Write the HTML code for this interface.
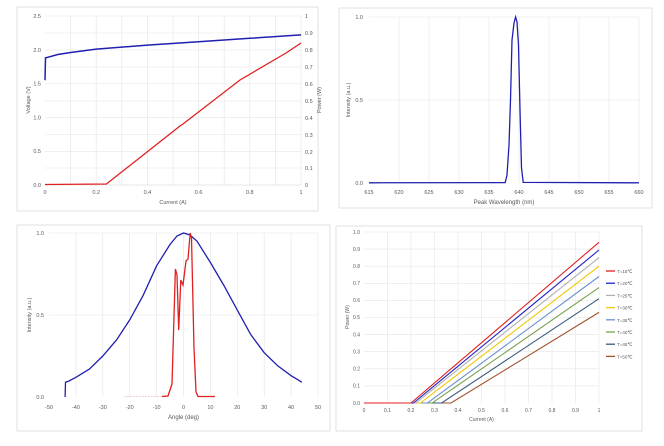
<!DOCTYPE html>
<html><head><meta charset="utf-8"><style>
body{margin:0;background:#fff}
svg{display:block;font-family:"Liberation Sans",sans-serif;font-size:5.5px;fill:#595959}
.g line{stroke:#e4e4e4;stroke-width:.6}
.b{fill:none;stroke:#d9d9d9;stroke-width:.8}
.t{font-size:6px;fill:#595959}
</style></head><body>
<svg width="664" height="446" viewBox="0 0 664 446">
<rect class="b" x="17" y="7" width="301" height="204"/>
<rect class="b" x="339" y="8" width="313" height="200"/>
<rect class="b" x="17" y="225" width="313" height="206"/>
<rect class="b" x="336" y="226" width="306" height="205"/>

<g class="g">
<line x1="45" y1="16" x2="301" y2="16"/><line x1="45" y1="50" x2="301" y2="50"/><line x1="45" y1="83.8" x2="301" y2="83.8"/><line x1="45" y1="117.6" x2="301" y2="117.6"/><line x1="45" y1="151.4" x2="301" y2="151.4"/>
<line x1="45" y1="33" x2="301" y2="33"/><line x1="45" y1="67" x2="301" y2="67"/><line x1="45" y1="101" x2="301" y2="101"/><line x1="45" y1="134.5" x2="301" y2="134.5"/><line x1="45" y1="168" x2="301" y2="168"/>
<line x1="96.2" y1="16" x2="96.2" y2="185"/><line x1="147.4" y1="16" x2="147.4" y2="185"/><line x1="198.6" y1="16" x2="198.6" y2="185"/><line x1="249.8" y1="16" x2="249.8" y2="185"/><line x1="301" y1="16" x2="301" y2="185"/>
<line x1="70.6" y1="16" x2="70.6" y2="185"/><line x1="121.8" y1="16" x2="121.8" y2="185"/><line x1="173" y1="16" x2="173" y2="185"/><line x1="224.2" y1="16" x2="224.2" y2="185"/><line x1="275.4" y1="16" x2="275.4" y2="185"/>
</g>
<line x1="45" y1="185" x2="301" y2="185" stroke="#d0d0d0" stroke-width=".6"/>
<g text-anchor="end"><text x="41" y="18">2.5</text><text x="41" y="51.8">2.0</text><text x="41" y="85.6">1.5</text><text x="41" y="119.4">1.0</text><text x="41" y="153.2">0.5</text><text x="41" y="187">0.0</text></g>
<g><text x="305" y="18">1</text><text x="305" y="35">0.9</text><text x="305" y="52">0.8</text><text x="305" y="69">0.7</text><text x="305" y="86">0.6</text><text x="305" y="103">0.5</text><text x="305" y="120">0.4</text><text x="305" y="137">0.3</text><text x="305" y="154">0.2</text><text x="305" y="170">0.1</text><text x="305" y="187">0</text></g>
<g text-anchor="middle"><text x="45" y="194">0</text><text x="96.2" y="194">0.2</text><text x="147.4" y="194">0.4</text><text x="198.6" y="194">0.6</text><text x="249.8" y="194">0.8</text><text x="301" y="194">1</text><text x="173" y="204">Current (A)</text></g>
<text x="30" y="100" text-anchor="middle" transform="rotate(-90 30 100)">Voltage (V)</text>
<text x="321" y="100" text-anchor="middle" transform="rotate(-90 321 100)">Power (W)</text>
<polyline fill="none" stroke="#2020b0" stroke-width="1.5" points="45,80.2 45.5,57.9 57.8,54.5 70.6,52.5 96.2,49.1 147.4,45.1 198.6,41.7 249.8,38.3 301,34.9"/>
<polyline fill="none" stroke="#e02020" stroke-width="1.3" points="45,184.5 106.4,184 180,126 183,124 240,80 286,53 292,49 301,43"/>

<g class="g">
<line x1="369" y1="17" x2="639" y2="17"/><line x1="369" y1="100" x2="639" y2="100"/>
<line x1="399" y1="17" x2="399" y2="183"/><line x1="429" y1="17" x2="429" y2="183"/><line x1="459" y1="17" x2="459" y2="183"/><line x1="489" y1="17" x2="489" y2="183"/><line x1="519" y1="17" x2="519" y2="183"/><line x1="549" y1="17" x2="549" y2="183"/><line x1="579" y1="17" x2="579" y2="183"/><line x1="609" y1="17" x2="609" y2="183"/><line x1="639" y1="17" x2="639" y2="183"/>
</g>
<g text-anchor="end"><text x="363" y="19">1.0</text><text x="363" y="102">0.5</text><text x="363" y="185">0.0</text></g>
<g text-anchor="middle"><text x="369" y="194">615</text><text x="399" y="194">620</text><text x="429" y="194">625</text><text x="459" y="194">630</text><text x="489" y="194">635</text><text x="519" y="194">640</text><text x="549" y="194">645</text><text x="579" y="194">650</text><text x="609" y="194">655</text><text x="639" y="194">660</text>
<text class="t" x="504" y="204">Peak Wavelength (nm)</text></g>
<text x="350" y="100" text-anchor="middle" transform="rotate(-90 350 100)">Intensity (a.u.)</text>
<polyline fill="none" stroke="#2020b0" stroke-width="1.3" points="369,182.8 500,182.6 505.2,182.6 507,175 509,145 510.5,100 512,40 514,23 515.6,17 517,22 518.5,45 520,110 521.5,168 523.2,182.4 639,182.8"/>

<g class="g">
<line x1="49" y1="233" x2="318" y2="233"/><line x1="49" y1="315" x2="318" y2="315"/>
<line x1="75.9" y1="233" x2="75.9" y2="397"/><line x1="102.8" y1="233" x2="102.8" y2="397"/><line x1="129.7" y1="233" x2="129.7" y2="397"/><line x1="156.6" y1="233" x2="156.6" y2="397"/><line x1="183.5" y1="233" x2="183.5" y2="397"/><line x1="210.4" y1="233" x2="210.4" y2="397"/><line x1="237.3" y1="233" x2="237.3" y2="397"/><line x1="264.2" y1="233" x2="264.2" y2="397"/><line x1="291.1" y1="233" x2="291.1" y2="397"/><line x1="318" y1="233" x2="318" y2="397"/>
</g>
<g text-anchor="end"><text x="44" y="235">1.0</text><text x="44" y="317">0.5</text><text x="44" y="399">0.0</text></g>
<g text-anchor="middle"><text x="49" y="409">-50</text><text x="75.9" y="409">-40</text><text x="102.8" y="409">-30</text><text x="129.7" y="409">-20</text><text x="156.6" y="409">-10</text><text x="183.5" y="409">0</text><text x="210.4" y="409">10</text><text x="237.3" y="409">20</text><text x="264.2" y="409">30</text><text x="291.1" y="409">40</text><text x="318" y="409">50</text>
<text class="t" x="183.5" y="419">Angle (deg)</text></g>
<text x="31" y="315" text-anchor="middle" transform="rotate(-90 31 315)">Intensity (a.u.)</text>
<polyline fill="none" stroke="#2020b0" stroke-width="1.3" points="65.1,397 65.5,382.2 69,381 75.9,377.3 89.4,369.1 102.8,356 116.8,339.6 129.7,319.9 143.2,295.3 156.6,265.8 170,244.5 177,236 183.5,233 190,235 197,241.2 210.4,262.5 223.9,285.5 237.3,310.1 250.8,334.7 264.2,352.7 277.7,365.8 291.1,375.7 301.9,382.2"/>
<polyline fill="none" stroke="#f0a0a0" stroke-width=".6" stroke-dasharray="2,1" points="124,396.5 162,396.5"/>
<polyline fill="none" stroke="#e02020" stroke-width="1.3" points="162,396.5 168,396 170,390 172,384 175.4,269 177,275 178.7,330 180.8,280 182,283 183,285 184,277 186,261 188,259 190.2,233 191.5,238 194,348 196,392 198,396.5 215,396.5"/>

<g class="g">
<line x1="364" y1="232" x2="599" y2="232"/><line x1="364" y1="249.1" x2="599" y2="249.1"/><line x1="364" y1="266.2" x2="599" y2="266.2"/><line x1="364" y1="283.3" x2="599" y2="283.3"/><line x1="364" y1="300.4" x2="599" y2="300.4"/><line x1="364" y1="317.5" x2="599" y2="317.5"/><line x1="364" y1="334.6" x2="599" y2="334.6"/><line x1="364" y1="351.7" x2="599" y2="351.7"/><line x1="364" y1="368.8" x2="599" y2="368.8"/><line x1="364" y1="385.9" x2="599" y2="385.9"/>
<line x1="387.5" y1="232" x2="387.5" y2="403"/><line x1="411" y1="232" x2="411" y2="403"/><line x1="434.5" y1="232" x2="434.5" y2="403"/><line x1="458" y1="232" x2="458" y2="403"/><line x1="481.5" y1="232" x2="481.5" y2="403"/><line x1="505" y1="232" x2="505" y2="403"/><line x1="528.5" y1="232" x2="528.5" y2="403"/><line x1="552" y1="232" x2="552" y2="403"/><line x1="575.5" y1="232" x2="575.5" y2="403"/><line x1="599" y1="232" x2="599" y2="403"/>
</g>
<g text-anchor="end" style="font-size:5px"><text x="360" y="234">1.0</text><text x="360" y="251">0.9</text><text x="360" y="268">0.8</text><text x="360" y="285">0.7</text><text x="360" y="302">0.6</text><text x="360" y="319">0.5</text><text x="360" y="336.5">0.4</text><text x="360" y="353.5">0.3</text><text x="360" y="370.5">0.2</text><text x="360" y="387.5">0.1</text><text x="360" y="405">0.0</text></g>
<g text-anchor="middle" style="font-size:5px"><text x="364" y="412">0</text><text x="387.5" y="412">0.1</text><text x="411" y="412">0.2</text><text x="434.5" y="412">0.3</text><text x="458" y="412">0.4</text><text x="481.5" y="412">0.5</text><text x="505" y="412">0.6</text><text x="528.5" y="412">0.7</text><text x="552" y="412">0.8</text><text x="575.5" y="412">0.9</text><text x="599" y="412">1</text><text x="481.5" y="421">Current (A)</text></g>
<text x="349" y="317" text-anchor="middle" style="font-size:5px" transform="rotate(-90 349 317)">Power (W)</text>
<g fill="none" stroke-width="1.1">
<polyline stroke="#a0522d" points="364,403 451,403 599,312.4"/>
<polyline stroke="#3a5a80" points="364,403 441.6,403 599,298.7"/>
<polyline stroke="#7aa050" points="364,403 432.2,403 599,287.6"/>
<polyline stroke="#6a8fd0" points="364,403 427.5,403 599,276.5"/>
<polyline stroke="#f0c800" points="364,403 420.4,403 599,266.2"/>
<polyline stroke="#b0b0b0" points="364,403 415.7,403 599,257.7"/>
<polyline stroke="#2222c0" points="364,403 413.4,403 599,250"/>
<polyline stroke="#e02020" points="364,403 411,403 599,242.3"/>
</g>
<g stroke-width="1.3" style="font-size:4.5px">
<line x1="606" y1="271" x2="615" y2="271" stroke="#e02020"/><text x="617" y="273">T=15℃</text>
<line x1="606" y1="283.2" x2="615" y2="283.2" stroke="#2222c0"/><text x="617" y="285.2">T=20℃</text>
<line x1="606" y1="295.4" x2="615" y2="295.4" stroke="#b0b0b0"/><text x="617" y="297.4">T=25℃</text>
<line x1="606" y1="307.6" x2="615" y2="307.6" stroke="#f0c800"/><text x="617" y="309.6">T=30℃</text>
<line x1="606" y1="319.8" x2="615" y2="319.8" stroke="#6a8fd0"/><text x="617" y="321.8">T=35℃</text>
<line x1="606" y1="332" x2="615" y2="332" stroke="#7aa050"/><text x="617" y="334">T=40℃</text>
<line x1="606" y1="344.2" x2="615" y2="344.2" stroke="#3a5a80"/><text x="617" y="346.2">T=45℃</text>
<line x1="606" y1="356.4" x2="615" y2="356.4" stroke="#a0522d"/><text x="617" y="358.4">T=50℃</text>
</g>
</svg>
</body></html>
